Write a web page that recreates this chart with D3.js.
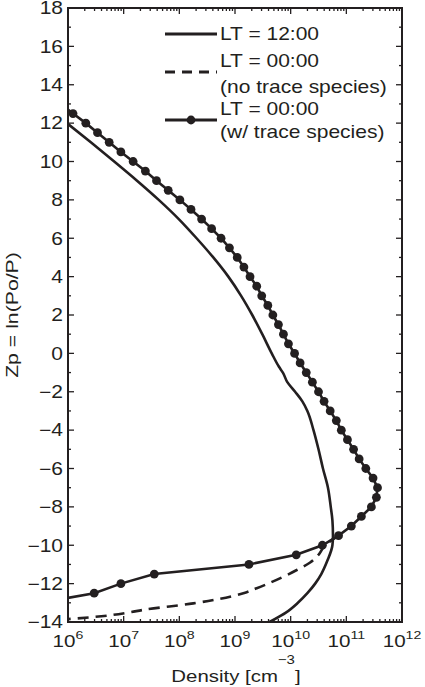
<!DOCTYPE html>
<html>
<head>
<meta charset="utf-8">
<script src="https://cdn.jsdelivr.net/npm/d3@7"></script>
<style>
  html, body { margin: 0; padding: 0; background: #fff; }
  svg { display: block; }
  text { font-family: "Liberation Sans", Arial, Helvetica, sans-serif; fill: #231f20; }
</style>
</head>
<body>
<svg id="chart" width="425" height="687"></svg>
<script>
// Vertical coordinate Zp = ln(Po/P) and log10 of number density [cm^-3]

// LT = 00:00 with trace species (plotted with markers)
const zTrace = [13.0, 12.5, 12.0, 11.5, 11.0, 10.5, 10.0, 9.5, 9.0, 8.5, 8.0, 7.5, 7.0, 6.5, 6.0,
  5.5, 5.0, 4.5, 4.0, 3.5, 3.0, 2.5, 2.0, 1.5, 1.0, 0.5, 0.0, -0.5, -1.0, -1.5, -2.0, -2.5,
  -3.0, -3.5, -4.0, -4.5, -5.0, -5.5, -6.0, -6.5, -7.0, -7.5, -8.0, -8.5, -9.0, -9.5, -10.0,
  -10.5, -11.0, -11.5, -12.0, -12.5, -13.0];
const logTrace = [5.87, 6.09, 6.32, 6.53, 6.74, 6.95, 7.17, 7.39, 7.59, 7.80, 8.01, 8.21, 8.40, 8.58, 8.75,
  8.90, 9.04, 9.16, 9.27, 9.39, 9.48, 9.59, 9.68, 9.78, 9.87, 9.96, 10.07, 10.17, 10.28, 10.39, 10.50, 10.60,
  10.71, 10.82, 10.91, 11.02, 11.13, 11.23, 11.35, 11.48, 11.56, 11.54, 11.45, 11.27, 11.09, 10.86, 10.57,
  10.10, 9.25, 7.55, 6.95, 6.47, 5.50];

// LT = 12:00
const zNoon = [12.0, 11.0, 10.0, 9.0, 8.0, 7.0, 6.0, 5.0, 4.0, 3.0, 2.0, 1.0, 0.0, -0.7,
  -1.0, -1.5, -2.0, -2.5, -3.0, -4.0, -5.0, -6.0, -7.0, -8.0, -8.7, -9.5, -10.0, -10.8, -11.5,
  -12.0, -12.5, -13.0, -13.5, -14.0];
const logNoon = [5.98, 6.41, 6.83, 7.24, 7.63, 7.99, 8.31, 8.61, 8.88, 9.11, 9.31, 9.49, 9.66, 9.79,
  9.86, 9.94, 10.08, 10.21, 10.30, 10.41, 10.50, 10.58, 10.67, 10.72, 10.75, 10.76, 10.75, 10.66, 10.55,
  10.44, 10.30, 10.13, 9.92, 9.62];

// LT = 00:00 without trace species (lower part; above it follows the traced curve)
const zNight = [-9.5, -10.0, -10.5, -10.9, -11.29, -11.64, -12.24, -12.5, -13.03, -13.37, -13.5, -13.7, -13.85];
const logNight = [10.86, 10.62, 10.50, 10.35, 10.11, 9.87, 9.39, 9.15, 8.25, 7.35, 7.10, 6.60, 6.00];

const yTickValues = [-14, -12, -10, -8, -6, -4, -2, 0, 2, 4, 6, 8, 10, 12, 14, 16, 18];
const xTickPowers = [6, 7, 8, 9, 10, 11, 12];
const legendLabels = [["LT = 12:00"], ["LT = 00:00", "(no trace species)"], ["LT = 00:00", "(w/ trace species)"]];

const ink = "#231f20";
const svg = d3.select("#chart");
const pLeft = 68, pRight = 402, pTop = 8, pBottom = 622;
const sx = 1.2; // glyph stretch along the writing direction

const x = d3.scaleLog().domain([1e6, 1e12]).range([pLeft, pRight]);
const y = d3.scaleLinear().domain([-14, 18]).range([pBottom, pTop]);

svg.append("defs").append("clipPath").attr("id", "plotClip")
  .append("rect").attr("x", pLeft).attr("y", pTop).attr("width", pRight - pLeft).attr("height", pBottom - pTop);

const toPts = (zs, ls) => zs.map((z, i) => ({ z, n: Math.pow(10, ls[i]) }));
const trace = toPts(zTrace, logTrace);
const noon = toPts(zNoon, logNoon);
const night = toPts(zNight, logNight);

const smooth = d3.line().x(d => x(d.n)).y(d => y(d.z)).curve(d3.curveMonotoneY);
const straight = d3.line().x(d => x(d.n)).y(d => y(d.z));

const plot = svg.append("g").attr("clip-path", "url(#plotClip)");

plot.append("path").datum(night).attr("d", smooth)
  .attr("fill", "none").attr("stroke", ink).attr("stroke-width", 2.6).attr("stroke-dasharray", "11,7");
plot.append("path").datum(noon).attr("d", smooth)
  .attr("fill", "none").attr("stroke", ink).attr("stroke-width", 2.6);
plot.append("path").datum(trace).attr("d", straight)
  .attr("fill", "none").attr("stroke", ink).attr("stroke-width", 2.6);
plot.selectAll("circle.m").data(trace.filter(d => d.z > -13 && d.z < 13)).enter()
  .append("circle").attr("class", "m")
  .attr("cx", d => x(d.n)).attr("cy", d => y(d.z)).attr("r", 4.4).attr("fill", ink);

// Ticks (inward, on all four sides)
const tk = svg.append("g").attr("stroke", ink).attr("stroke-width", 1.3);
d3.range(-14, 19, 1).forEach(v => {
  const len = v % 2 === 0 ? 6 : 3;
  tk.append("line").attr("x1", pLeft).attr("x2", pLeft + len).attr("y1", y(v)).attr("y2", y(v));
  tk.append("line").attr("x1", pRight).attr("x2", pRight - len).attr("y1", y(v)).attr("y2", y(v));
});
x.ticks().forEach(v => {
  const major = Math.abs(Math.log10(v) - Math.round(Math.log10(v))) < 1e-9;
  const len = major ? 6 : 3;
  tk.append("line").attr("x1", x(v)).attr("x2", x(v)).attr("y1", pBottom).attr("y2", pBottom - len);
  tk.append("line").attr("x1", x(v)).attr("x2", x(v)).attr("y1", pTop).attr("y2", pTop + len);
});

// Frame
svg.append("rect").attr("x", pLeft).attr("y", pTop).attr("width", pRight - pLeft).attr("height", pBottom - pTop)
  .attr("fill", "none").attr("stroke", ink).attr("stroke-width", 2);

// Y tick labels
yTickValues.forEach(v => {
  svg.append("text")
    .attr("transform", `translate(${pLeft - 5},${y(v)}) scale(${sx},1)`)
    .attr("text-anchor", "end").attr("dy", "0.36em").attr("font-size", 17.5)
    .text(v < 0 ? "\u2212" + Math.abs(v) : String(v));
});

// X tick labels 10^n
xTickPowers.forEach(p => {
  const t = svg.append("text")
    .attr("transform", `translate(${x(Math.pow(10, p))},647) scale(${sx},1)`)
    .attr("text-anchor", "middle").attr("font-size", 17.2);
  t.append("tspan").text("10");
  t.append("tspan").attr("dy", -8).attr("font-size", 11.8).text(String(p));
});

// Axis titles
const xt = svg.append("text")
  .attr("transform", `translate(236,682) scale(${sx},1)`)
  .attr("text-anchor", "middle").attr("font-size", 17);
xt.append("tspan").text("Density [cm");
xt.append("tspan").attr("dy", -18).attr("font-size", 12.5).text("\u22123");
xt.append("tspan").attr("dy", 18).text("]");

svg.append("text")
  .attr("transform", `translate(18,${(pTop + pBottom) / 2}) rotate(-90) scale(1.25,1)`)
  .attr("text-anchor", "middle").attr("font-size", 17)
  .text("Zp = ln(Po/P)");

// Legend
const lg = svg.append("g");
const lineX0 = 165, lineX1 = 217, textX = 220;
const legendLineY = [34, 72, 120];
const legendBase = [[40], [66.5, 93], [115, 138]];
legendLabels.forEach((rows, i) => {
  const ln = lg.append("line").attr("x1", lineX0).attr("x2", lineX1)
    .attr("y1", legendLineY[i]).attr("y2", legendLineY[i])
    .attr("stroke", ink).attr("stroke-width", 3);
  if (i === 1) ln.attr("stroke-dasharray", "10,7");
  if (i === 2) lg.append("circle").attr("cx", (lineX0 + lineX1) / 2).attr("cy", legendLineY[i]).attr("r", 4.4).attr("fill", ink);
  rows.forEach((r, j) => {
    lg.append("text")
      .attr("transform", `translate(${textX},${legendBase[i][j]}) scale(${sx},1)`)
      .attr("font-size", 17.5).text(r);
  });
});
</script>
</body>
</html>
